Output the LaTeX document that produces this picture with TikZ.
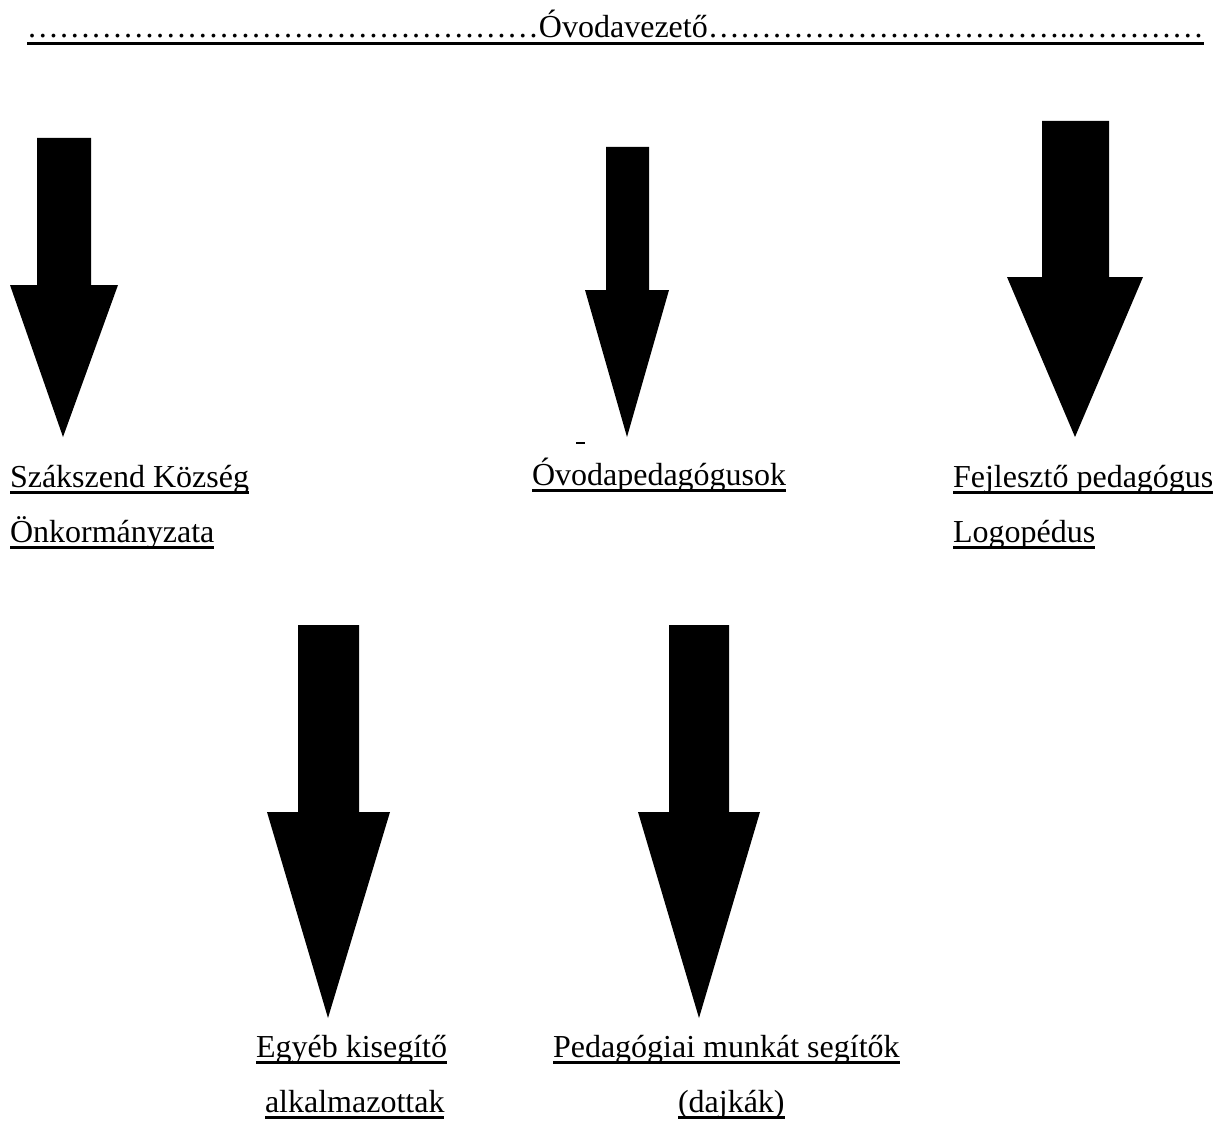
\documentclass[tikz,border=0pt]{standalone}
\usepackage{fontspec}
\setmainfont{Liberation Serif}
\begin{document}
\begin{tikzpicture}[x=1pt,y=-1pt,
  lbl/.style={inner sep=0pt,outer sep=0pt,anchor=base west,font=\fontsize{32}{38}\selectfont},
  ulline/.style={line width=2.7pt,black},
  blockarrow/.style={fill=black,draw=none}]
\useasboundingbox[fill=white] (0,0) rectangle (1218,1129);
\newcommand\ulnode[3]{%
  \node[lbl] (#1) at (#2) {#3};
  \draw[ulline] ([yshift=-5.5pt]#1.base west) -- ([yshift=-5.5pt]#1.base east);}
% header
\ulnode{head}{27,38}{\dots\dots\dots\dots\dots\dots\dots\dots\dots\dots\dots\dots\dots\dots\dots\dots Óvodavezető\dots\dots\dots\dots\dots\dots\dots\dots\dots\dots\dots..\dots\dots\dots\dots}
% top arrows
\fill[blockarrow] (37,138) -- (91,138) -- (91,285) -- (118,285) -- (63,437) -- (10,285) -- (37,285) -- cycle;
\fill[blockarrow] (606,147) -- (649,147) -- (649,290) -- (669,290) -- (627,437) -- (585,290) -- (606,290) -- cycle;
\fill[blockarrow] (1042,121) -- (1109,121) -- (1109,277) -- (1143,277) -- (1075,437) -- (1007,277) -- (1042,277) -- cycle;
% stray underlined space
\draw[ulline] (576,443) -- (585,443);
% top labels
\ulnode{szak}{10,487}{Szákszend Község\hspace{0.25em}}
\ulnode{onk}{10,542}{Önkormányzata}
\ulnode{ovped}{532,485}{Óvodapedagógusok}
\ulnode{fejl}{953,487}{Fejlesztő pedagógus}
\ulnode{logo}{953,542}{Logopédus}
% bottom arrows
\fill[blockarrow] (298,625) -- (359,625) -- (359,812) -- (390,812) -- (328,1018) -- (267,812) -- (298,812) -- cycle;
\fill[blockarrow] (669,625) -- (729,625) -- (729,812) -- (760,812) -- (699,1018) -- (638,812) -- (669,812) -- cycle;
% bottom labels
\ulnode{egyeb}{256,1057}{Egyéb kisegítő\hspace{0.25em}}
\ulnode{alk}{265,1112}{alkalmazottak}
\ulnode{pedseg}{553,1057}{Pedagógiai munkát segítők}
\ulnode{dajk}{678,1112}{(dajkák)}
\end{tikzpicture}
\end{document}
